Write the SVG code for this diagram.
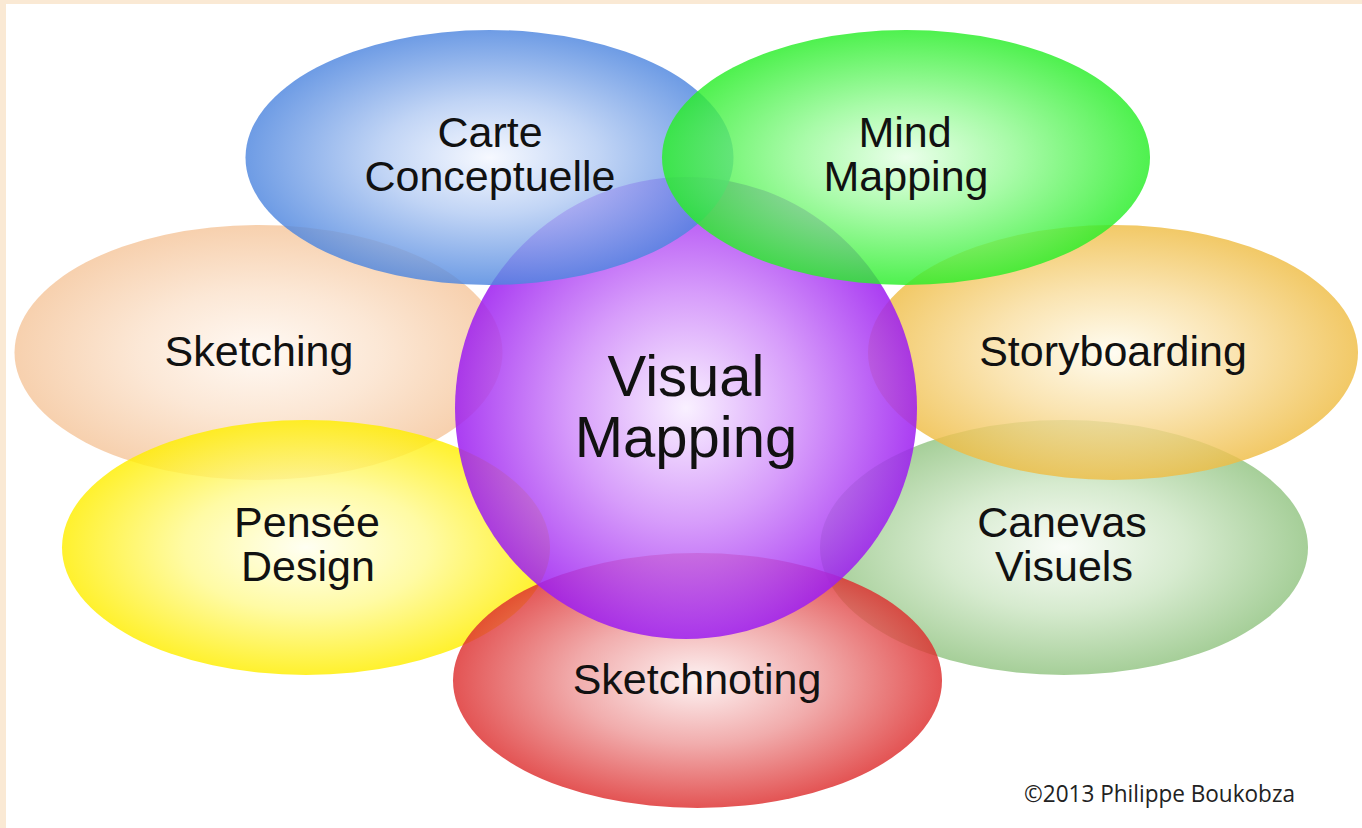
<svg xmlns="http://www.w3.org/2000/svg" width="1362" height="828" viewBox="0 0 1362 828">
<style>
.lbl{font-family:"Liberation Sans",Arial,Helvetica,sans-serif;font-size:43px;fill:#111;text-anchor:middle}
.big{font-size:58px}
.shape{fill-opacity:0.82}
.copy{font-family:"Open Sans","Liberation Sans",sans-serif;font-size:24px;fill:#222}
</style>
<defs>
<radialGradient id="gBlue"><stop offset="0" stop-color="#f4f7ff"/><stop offset="0.45" stop-color="#b3cbf3"/><stop offset="1" stop-color="#4e86df"/></radialGradient>
<radialGradient id="gGreen"><stop offset="0" stop-color="#e6ffe6"/><stop offset="0.45" stop-color="#94fa94"/><stop offset="1" stop-color="#28ee28"/></radialGradient>
<radialGradient id="gPeach"><stop offset="0" stop-color="#fff8f2"/><stop offset="0.5" stop-color="#fbe2cc"/><stop offset="1" stop-color="#f5c69c"/></radialGradient>
<radialGradient id="gOrange"><stop offset="0" stop-color="#fffcef"/><stop offset="0.5" stop-color="#f9dea0"/><stop offset="1" stop-color="#efbd45"/></radialGradient>
<radialGradient id="gYellow"><stop offset="0" stop-color="#fffff0"/><stop offset="0.5" stop-color="#fffa90"/><stop offset="1" stop-color="#ffee00"/></radialGradient>
<radialGradient id="gSage"><stop offset="0" stop-color="#f8fcf6"/><stop offset="0.5" stop-color="#cde6c4"/><stop offset="1" stop-color="#92c482"/></radialGradient>
<radialGradient id="gRed"><stop offset="0" stop-color="#fdf0f0"/><stop offset="0.5" stop-color="#ee9a9a"/><stop offset="1" stop-color="#dd2e2e"/></radialGradient>
<radialGradient id="gPurple"><stop offset="0" stop-color="#f8eeff"/><stop offset="0.5" stop-color="#d08cfa"/><stop offset="1" stop-color="#9d1ef0"/></radialGradient>
</defs>
<rect x="0" y="0" width="1362" height="828" fill="#fae9d4"/>
<rect x="6" y="4" width="1356" height="824" fill="#ffffff"/>
<g id="connectors"/>
<g id="canevas-visuels">
<ellipse class="shape" cx="1064" cy="547.5" rx="244" ry="127.5" fill="url(#gSage)"/>
<text class="lbl" x="1062" y="537">Canevas</text>
<text class="lbl" x="1064" y="581">Visuels</text>
</g>
<g id="storyboarding">
<ellipse class="shape" cx="1113" cy="352.5" rx="245" ry="127.5" fill="url(#gOrange)"/>
<text class="lbl" x="1113" y="366">Storyboarding</text>
</g>
<g id="sketching">
<ellipse class="shape" cx="258.5" cy="352.5" rx="244" ry="127.5" fill="url(#gPeach)"/>
<text class="lbl" x="259" y="366">Sketching</text>
</g>
<g id="pensee-design">
<ellipse class="shape" cx="306" cy="547.5" rx="244" ry="127.5" fill="url(#gYellow)"/>
<text class="lbl" x="307" y="537">Pensée</text>
<text class="lbl" x="308" y="581">Design</text>
</g>
<g id="sketchnoting">
<ellipse class="shape" cx="697.5" cy="680.5" rx="244.5" ry="127.5" fill="url(#gRed)"/>
<text class="lbl" x="697" y="694">Sketchnoting</text>
</g>
<g id="visual-mapping">
<circle cx="686" cy="408" r="231" fill="url(#gPurple)" fill-opacity="0.86"/>
<text class="lbl big" x="686" y="396">Visual</text>
<text class="lbl big" x="686" y="457">Mapping</text>
</g>
<g id="carte-conceptuelle">
<ellipse class="shape" cx="489.5" cy="157.5" rx="244" ry="127.5" fill="url(#gBlue)"/>
<text class="lbl" x="490" y="147">Carte</text>
<text class="lbl" x="490" y="191">Conceptuelle</text>
</g>
<g id="mind-mapping">
<ellipse class="shape" cx="906" cy="157.5" rx="244" ry="127.5" fill="url(#gGreen)"/>
<text class="lbl" x="905" y="147">Mind</text>
<text class="lbl" x="906" y="191">Mapping</text>
</g>
<text class="copy" x="1024" y="802" textLength="271" lengthAdjust="spacingAndGlyphs">©2013 Philippe Boukobza</text>
</svg>
